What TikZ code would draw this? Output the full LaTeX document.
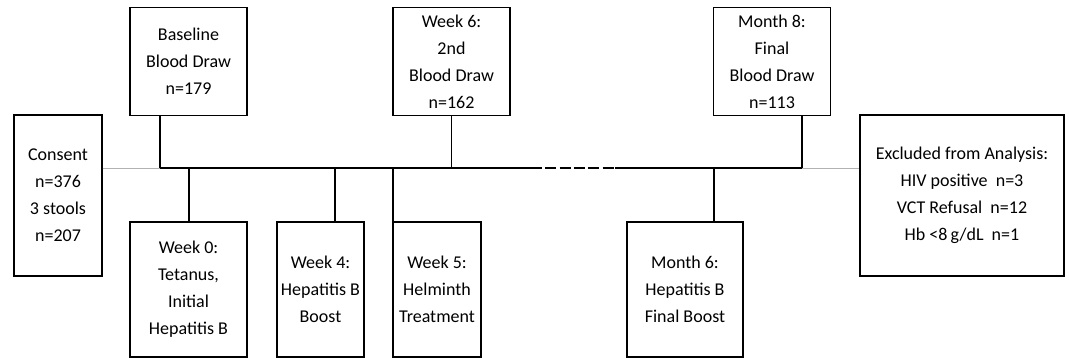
\documentclass[tikz,border=0pt]{standalone}
\usepackage{fontspec}
\setmainfont{Carlito}
\usepackage{tikz}
\usetikzlibrary{positioning}
\tikzset{box/.style={draw, line width=1.3pt, inner sep=0pt, align=center,
    font=\fontsize{18}{27}\selectfont}}
\tikzset{stem/.style={line width=1.3pt}}
\tikzset{axis/.style={line width=2.8pt}}
\tikzset{thin/.style={gray!60, line width=0.7pt}}
\begin{document}
\begin{tikzpicture}[x=1pt,y=-1pt]
\useasboundingbox (0,0) rectangle (1069,358);
% boxes above the line
\node[box, minimum width=117pt, minimum height=108pt] (base) at (188.5,61.5) {Baseline\\Blood Draw\\n=179};
\node[box, minimum width=117pt, minimum height=108pt] (wk6) at (451.5,61.5) {Week 6:\\2nd\\Blood Draw\\n=162};
\node[box, minimum width=117pt, minimum height=108pt] (mo8) at (772,61.5) {Month 8:\\Final\\Blood Draw\\n=113};
% boxes below the line
\node[box, minimum width=117pt, minimum height=135pt] (wk0) at (188.5,289.5) {Week 0:\\Tetanus,\\Initial\\Hepatitis B};
\node[box, minimum width=87pt, minimum height=135pt] (wk4) at (320.5,289.5) {Week 4:\\Hepatitis B\\Boost};
\node[box, minimum width=88pt, minimum height=135pt] (wk5) at (437,289.5) {Week 5:\\Helminth\\Treatment};
\node[box, minimum width=116pt, minimum height=135pt] (mo6) at (685,289.5) {Month 6:\\Hepatitis B\\Final Boost};
% side boxes
\node[box, minimum width=88pt, minimum height=161pt] (consent) at (58,195.5) {Consent\\n=376\\3 stools\\n=207};
\node[box, minimum width=204pt, minimum height=161pt] (excl) at (962,195.5) {Excluded from Analysis:\\HIV positive~~n=3\\VCT Refusal~~n=12\\Hb <8\,g/dL~~n=1};
% points on the time line
\coordinate (t0) at (160,168);
\coordinate (t1) at (189,168);
\coordinate (t2) at (335,168);
\coordinate (t3) at (393,168);
\coordinate (t4) at (451.5,168);
\coordinate (d0) at (542,168);
\coordinate (d1) at (615,168);
\coordinate (t5) at (714,168);
\coordinate (t6) at (802,168);
% thin lines to the side boxes
\draw[thin] (consent.east |- t0) -- (t0);
\draw[thin] (t6) -- (excl.west |- t6);
% time line
\draw[axis] (t0) -- (d0);
\draw[axis, dash pattern=on 0pt off 3.3pt on 11pt off 3.3pt on 11pt off 3.3pt on 11pt off 3.3pt on 11pt off 3.3pt on 11pt off 3.3pt] (d0) -- (d1);
\draw[axis] (d1) -- (t6);
% stems
\draw[stem] (base.south -| t0) -- (t0);
\draw[stem] (wk0.north -| t1) -- (t1);
\draw[stem] (wk4.north -| t2) -- (t2);
\draw[stem] (wk5.north -| t3) -- (t3);
\draw[stem] (wk6.south -| t4) -- (t4);
\draw[stem] (mo6.north -| t5) -- (t5);
\draw[stem] (mo8.south -| t6) -- (t6);
\end{tikzpicture}
\end{document}
